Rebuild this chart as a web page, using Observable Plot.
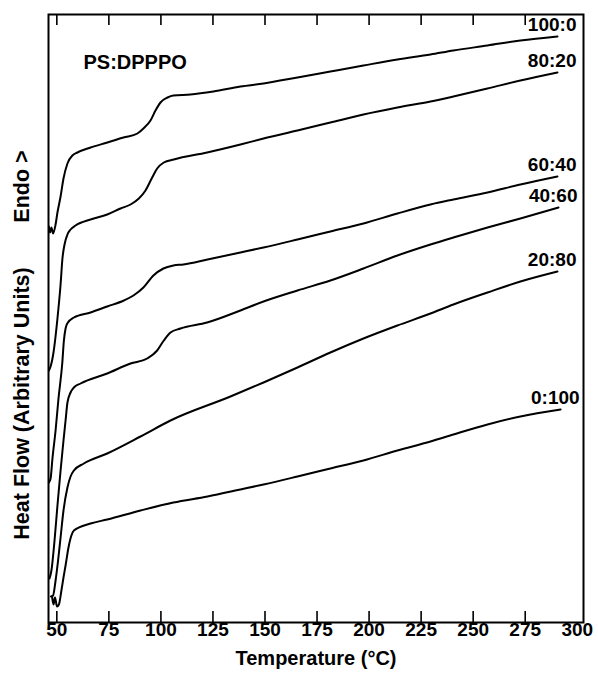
<!DOCTYPE html>
<html>
<head>
<meta charset="utf-8">
<script src="https://cdn.jsdelivr.net/npm/d3@7"></script>
<script src="https://cdn.jsdelivr.net/npm/@observablehq/plot@0.6"></script>
<style>
  html, body { margin: 0; padding: 0; background: #fff; }
  #chart { width: 598px; height: 675px; }
</style>
</head>
<body>
<div id="chart"></div>
<script>
// DSC traces, PS:DPPPO blends. [temperature °C, heat flow (arbitrary units)]
const ps100_0 = [[46.2,396],[46.7,390],[47.4,395],[48.2,389],[49.4,398],[50.3,410],[51.8,426],[53.2,444],[55.1,459],[57.5,467],[59.9,470],[66.2,475],[74.3,480],[82.0,485],[88.7,489],[91.6,494],[95.0,502],[97.4,512],[99.8,520],[103.2,525],[106.0,527],[114.2,528],[125.2,531],[138.2,536],[149.3,539],[165.6,545],[181.4,551],[197.3,557],[213.6,563],[229.5,568],[240.5,572],[256.9,577],[272.7,582],[290.5,586]];
const ps80_20 = [[46.2,252],[47.0,256],[48.4,270],[50.3,304],[51.8,338],[52.7,364],[53.7,378],[55.1,388],[56.6,393],[59.0,397],[66.2,403],[74.2,408],[80.6,414],[85.4,418],[89.4,424],[92.6,432],[95.8,445],[98.2,454],[101.4,460],[106.2,463],[122.2,470],[138.2,478],[149.3,484],[165.6,492],[181.4,500],[197.3,508],[213.6,515],[229.5,521],[240.5,526],[256.9,534],[272.7,542],[290.5,550]];
const ps60_40 = [[46.2,140],[47.0,144],[47.9,164],[49.4,192],[50.8,224],[52.6,259],[53.4,282],[54.2,294],[55.0,299],[58.2,305],[66.2,310],[74.2,316],[82.2,322],[86.8,327],[91.6,335],[96.4,347],[101.2,354],[106.0,357],[110.8,358],[122.4,363],[138.2,370],[149.3,375],[165.6,383],[181.4,391],[197.3,399],[213.6,409],[229.5,418],[240.5,423],[256.9,430],[272.7,438],[290.5,446]];
const ps40_60 = [[46.5,44],[47.4,52],[48.9,82],[50.3,117],[51.8,152],[53.2,182],[54.2,202],[55.1,220],[56.6,230],[58.2,235],[61.4,239],[74.2,249],[85.4,259],[93.4,264],[98.2,272],[101.4,282],[104.6,290],[109.4,294],[122.2,300],[138.2,312],[149.3,321],[165.6,332],[181.4,342],[197.3,354],[213.6,367],[229.5,378],[240.5,385],[256.9,395],[272.7,404],[291.0,415]];
const ps20_80 = [[47.2,26],[48.2,27],[49.4,42],[50.6,62],[51.8,85],[53.2,112],[55.1,135],[56.6,146],[58.2,152],[63.0,159],[74.2,169],[90.2,186],[104.6,202],[133.4,226],[149.3,240],[165.6,255],[181.4,270],[197.3,284],[213.6,297],[229.5,309],[240.5,318],[256.9,330],[272.7,341],[290.5,351]];
const ps0_100 = [[47.7,26],[48.4,18],[49.1,25],[50.1,16],[51.0,18],[52.2,32],[53.2,45],[54.2,57],[55.6,75],[57.0,87],[58.2,92],[66.2,99],[74.2,103],[90.2,112],[106.0,120],[122.4,126],[138.2,133],[149.3,138],[165.6,146],[181.4,154],[197.3,162],[213.6,172],[229.5,181],[240.5,188],[256.9,198],[272.7,206],[292.0,213]];

const seriesNames = ["100:0", "80:20", "60:40", "40:60", "20:80", "0:100"];
const seriesData = [ps100_0, ps80_20, ps60_40, ps40_60, ps20_80, ps0_100];
const xTicks = [50, 75, 100, 125, 150, 175, 200, 225, 250, 275, 300];
const xTickMarks = [50, 75, 100, 125, 150, 175, 200, 225, 250, 275];
const title = "PS:DPPPO";
const xLabel = "Temperature (°C)";
// rotated y-axis texts: [text, temperature position, heat-flow position]
const yLabels = [["Heat Flow (Arbitrary Units)", 33.5, 219], ["Endo >", 33.5, 436]];

const rows = seriesData.flatMap((pts, i) => pts.map(([t, v]) => ({series: seriesNames[i], t, v})));

const W = 598, H = 675, mT = 14, mB = 53, mL = 48, mR = 15;
const plotH = H - mT - mB;
const bold = {fontWeight: "bold", fill: "black"};

const chart = Plot.plot({
  width: W, height: H,
  marginTop: mT, marginBottom: mB, marginLeft: mL, marginRight: mR,
  style: {fontFamily: "'Liberation Sans', Arial, Helvetica, sans-serif", background: "white", color: "black"},
  x: {domain: [46, 303], axis: null},
  y: {domain: [0, 608], axis: null},
  marks: [
    Plot.frame({stroke: "black", strokeWidth: 2}),
    Plot.tickX(xTickMarks, {x: d => d, insetTop: plotH - 11, stroke: "black", strokeWidth: 1.6}),
    Plot.tickX(xTickMarks, {x: d => d, insetBottom: plotH - 11, stroke: "black", strokeWidth: 1.6}),
    Plot.line(rows, {x: "t", y: "v", z: "series", curve: "monotone-x", stroke: "black", strokeWidth: 2}),
    Plot.text(rows, Plot.selectLast({x: "t", y: "v", z: "series", text: "series", textAnchor: "end", dx: 19, dy: -12, fontSize: 19, ...bold})),
    Plot.text(xTicks, {x: d => d, text: d => String(d), frameAnchor: "bottom", dy: 13, fontSize: 19, ...bold}),
    Plot.text([xLabel], {frameAnchor: "bottom", dy: 42, fontSize: 20, ...bold}),
    Plot.text([title], {frameAnchor: "top-left", dx: 35, dy: 40, textAnchor: "start", fontSize: 20, ...bold}),
    Plot.text(yLabels, {x: d => d[1], y: d => d[2], text: d => d[0], rotate: -90, fontSize: 21.5, clip: false, ...bold})
  ]
});
document.getElementById("chart").appendChild(chart);
</script>
</body>
</html>
